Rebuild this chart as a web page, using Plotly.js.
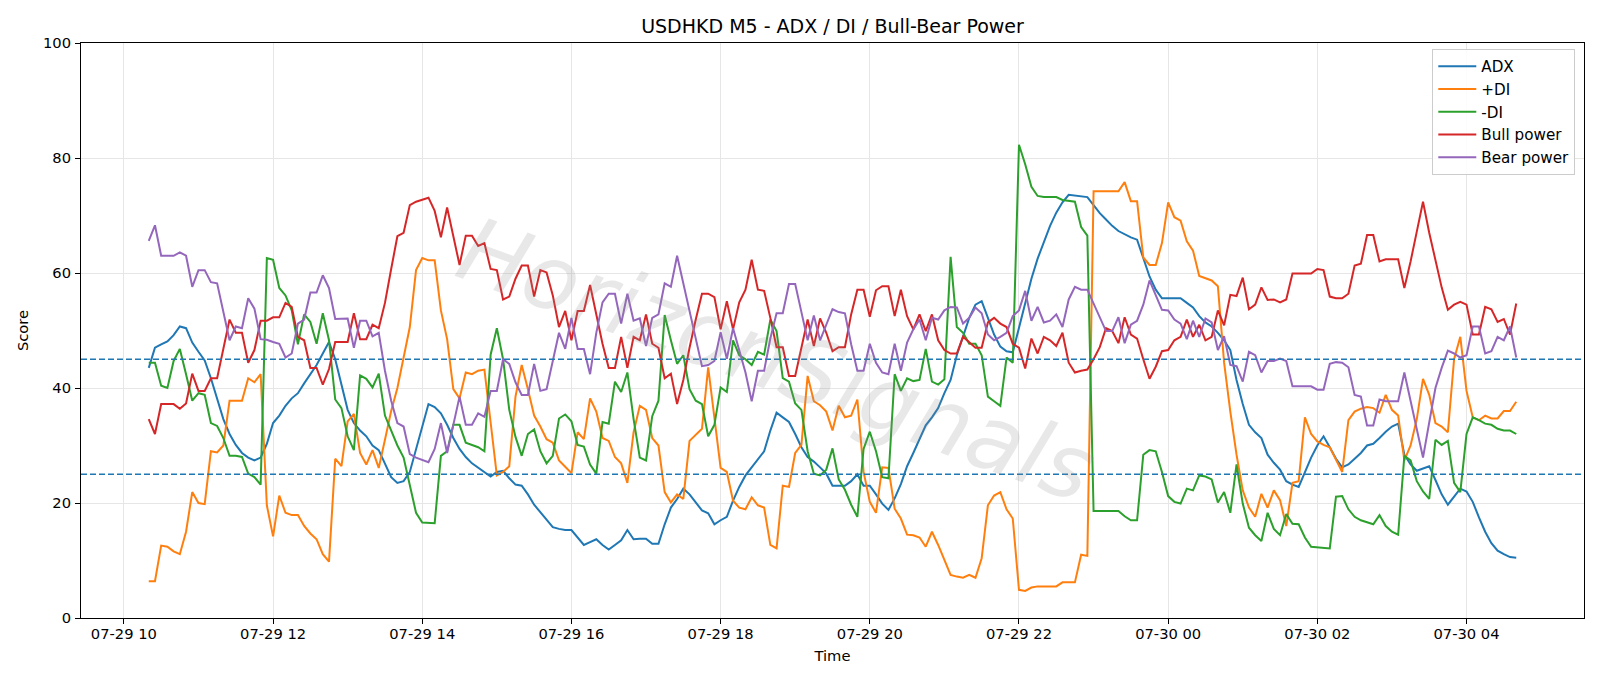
<!DOCTYPE html>
<html>
<head>
<meta charset="utf-8">
<script src="https://cdn.plot.ly/plotly-3.0.1.min.js"></script>
<style>
  html, body { margin: 0; padding: 0; background: #ffffff; }
  #chart { width: 1600px; height: 686px; }
</style>
</head>
<body>
<div id="chart"></div>
<script>
// ---- data (M5 bars, 2025-07-29 10:20 -> 2025-07-30 04:40) ----
const startTime = "2025-07-29T10:20:00";
const stepMinutes = 5;

const adx = [
  43.5,47,47.6,48.1,49.2,50.7,50.4,47.9,46.3,44.8,
  41.7,38.2,34.6,32,30.1,28.7,27.9,27.4,27.9,30.3,
  33.9,35.2,36.9,38.2,39.1,40.8,42.4,44,46,48,
  45,40.4,36.2,33.9,32.6,31.6,30,29.2,26.7,24.5,
  23.5,23.8,25.4,29.4,33.3,37.2,36.7,35.6,33.6,31.3,
  29.4,28,26.9,26.1,25.3,24.6,25.4,25.6,24.3,23.2,
  23,21.5,19.7,18.4,17.3,15.8,15.5,15.3,15.3,14,
  12.7,13.2,13.7,12.7,11.9,12.7,13.5,15.3,13.7,13.8,
  13.8,12.9,12.9,16.3,19.2,20.7,22.5,21.5,20,18.7,
  18.2,16.3,17,17.6,20.4,22.8,24.8,26.2,27.7,29,
  32.6,35.7,34.9,34.1,32,29.7,28,27.2,26.2,25.1,
  23,23,23,23.8,25,23,23,21.5,19.9,18.8,
  20.8,23.3,26.4,28.7,31,33.5,34.9,36.5,39.1,41.4,
  45.7,49,52.2,54.5,55.1,52.2,49.3,47.2,46.4,46.2,
  50.5,55,59,62.5,65.5,68.2,70.5,72.3,73.6,73.5,
  73.4,73.2,71.8,70.4,69.3,68.2,67.3,66.7,66.2,65.8,
  62.6,59.4,57.1,55.6,55.6,55.6,55.6,54.8,54,52.5,
  51.4,50.7,49.6,48.3,46.6,41.4,37.2,33.6,32.3,31.3,
  28.4,27,25.8,23.8,23.2,22.8,25.4,27.9,30,31.6,
  29.7,27.7,26.2,26.7,27.7,28.7,30,30.3,31.3,32.4,
  33.3,33.8,28.4,26.7,25.6,26,26.4,24,21.5,19.7,
  21,22.5,22,20.2,17.5,15,13,11.7,11.1,10.6,
  10.5
];

const plusDI = [
  6.4,6.4,12.6,12.4,11.6,11.1,15,21.9,20,19.8,
  29,28.8,30,37.8,37.8,37.8,41.7,41,42.4,19.6,
  14.2,21.3,18.3,17.9,17.9,16,14.7,13.7,11.1,9.8,
  27.7,26.4,34.2,35.5,28.7,26.7,29.2,26.1,31,36,
  40,45,50.6,60.5,62.6,62.2,62.2,53.5,48.5,39.8,
  38.2,42.7,42.4,43,43.2,34,24.8,25.4,26.4,38.5,
  44,39.8,35.2,33.3,31.1,30.5,27.4,26.3,25.2,32.3,
  31.1,38.2,35.9,31.3,30.8,28,26.9,23.5,32.3,36.9,
  36.2,31.3,30,21.9,20.1,21.5,20.7,30.8,31.8,32.9,
  43.6,34.6,26.1,25.4,20.4,19.2,18.9,21,19.6,19.2,
  12.7,12.1,23,22.8,28.7,30.1,42.1,37.7,37,35.9,
  32.6,36.9,34.9,35.2,38,25.4,20.2,18.3,26.2,26.1,
  19,17.3,14.5,14.4,14,12.4,15,12.7,10.1,7.5,
  7.2,7,7.5,7,10.4,19.6,21.3,21.9,18.9,17.3,
  4.9,4.7,5.3,5.5,5.5,5.5,5.5,6.2,6.2,6.2,
  11,10.8,74.2,74.2,74.2,74.2,74.2,75.8,72.5,72.5,
  62.7,61.4,61.4,65.2,72.3,69.7,69.1,65.5,63.9,59.5,
  59.1,58.7,57.7,44.4,35.9,28.4,22.2,19.2,17.6,21.6,
  19.2,22.2,20.5,16,23.5,23.8,34.9,32,30.7,30.1,
  29.7,27.4,25.4,34.4,35.9,36.4,36.7,36.5,35.7,38.8,
  36.2,35.2,27.4,30,34.6,41.6,38.8,33.9,33.3,32.3,
  45,48.9,39.5,34.9,34.4,35.2,34.7,34.7,36,36,
  37.6
];

const minusDI = [
  44.4,44.4,40.4,40,44.7,46.8,42.4,37.8,39.1,38.8,
  33.9,33.4,31.3,28.2,28.2,28,25.1,24.5,23.2,62.6,
  62.3,57.4,56.1,53.5,47.6,52.8,51.5,47.7,53,48.3,
  38,36.5,31.6,29.2,42.2,41.6,40.1,42.5,35.2,32.6,
  30,27.9,22.8,18.3,16.6,16.5,16.5,28.2,29,33.6,
  33.6,30.5,30.1,29.7,29,45.8,50.4,45,36.2,31.5,
  28.2,32,32.8,29,26.9,28.2,34.7,35.4,34.2,30.1,
  29.8,26.7,25.1,34.1,33.8,41.1,39.3,42.7,34.6,27.9,
  27.4,35.1,37.8,52.7,48.3,44.2,45.7,39.8,37.8,37.2,
  31.6,33.6,40.1,39.3,48.3,45.7,45,44,46.3,45.8,
  51.9,49.9,41.7,41.1,37.3,36.2,29,25.1,24.8,25.8,
  29.5,24.1,22.3,19.7,17.6,29.4,32.4,29,24.5,24.3,
  42.4,39.5,41.7,41.2,41.4,46.8,41.1,40.6,41.5,62.8,
  50.6,49.6,47.7,47.7,45.7,38.5,37.7,36.9,45.3,44.4,
  82.3,78.9,75,73.4,73.2,73.2,73.2,72.7,72.5,72.4,
  68,66.5,18.6,18.6,18.6,18.6,18.6,17.7,17,17,
  28.4,29.2,29,25.4,21.2,20.2,19.9,22.5,22.2,24.8,
  24.6,24.1,20.1,21.9,18.3,26.7,19.9,15.7,14.4,13.4,
  18.3,15.5,14.4,18.1,16.4,16.3,14,12.4,12.3,12.1,
  12.1,21.1,21.2,18.9,17.6,17,16.6,16.3,17.9,16,
  15,14.5,28.2,27.4,23.8,22,20.7,31,30.1,30.8,
  23.5,21.9,32,34.9,34.4,33.8,33.6,32.9,32.6,32.6,
  32
];

const bullPower = [
  34.6,32,37.2,37.2,37.2,36.4,37.3,42.5,39.5,39.5,
  41.7,41.7,47,51.9,49.6,49.6,44.4,46.6,51.7,51.7,
  52.3,52.3,54.8,54.1,48.9,48.3,43.5,43.5,40.6,43.3,
  48,48,48,53,48.5,48.5,51,50.4,54.8,60.7,
  66.4,67,71.8,72.4,72.7,73.1,70.8,66.2,71.4,66.5,
  61.4,66.5,66.5,64.7,65.2,60.7,60.5,55.4,55.9,59,
  61.3,61.3,55.9,60.5,60.1,56.1,50.6,53.4,48.3,53.4,
  53.4,57.9,52.5,47.7,43.5,43.5,48.9,43.5,48.9,48.3,
  52.8,47.7,47,41.7,42.5,37.2,41.4,47,51.9,56.4,
  56.4,55.8,50.2,55.1,50.2,54.9,57.1,62.3,57.1,56.9,
  52.2,47.1,47.1,42.1,42.1,47,51.9,47.3,52.1,49.6,
  46.4,47.1,47.1,52.8,57.1,57.1,52.4,57,57.7,57.7,
  52.5,57.1,52.5,50.2,52.8,49.9,52.8,48.3,46.6,46,
  46,48.9,47.9,47,47,51.4,52.2,51.2,50.6,47.7,
  47,43.4,48.6,46,48.9,48.3,47.3,49.6,44.4,42.7,
  43,43.2,45,47.1,50.4,49.9,47.8,52.3,49.3,48.6,
  45,41.6,43.7,46.4,46.6,48.3,48.9,51.9,48.9,51,
  48.3,48.9,53.5,50.9,56.2,56,59.2,53.7,54.5,57.5,
  55.3,55.4,54.9,55.4,59.9,59.9,59.9,59.9,60.7,60.5,
  55.9,55.6,55.6,56.4,61.3,61.6,66.6,66.6,62,62.4,
  62.4,62.4,57.4,62,67.2,72.4,67,62,57.5,53.6,
  54.5,55,54.5,49.3,49.3,54.1,53.7,51.5,52,49.3,
  54.7
];

const bearPower = [
  65.6,68.3,63,63,63,63.6,63,57.6,60.5,60.5,
  58.4,58.2,53.5,48.3,50.7,50.4,55.6,53.8,48.5,48.4,
  48,47.7,45.3,46,51.2,51.9,56.6,56.6,59.6,57.4,
  52,52.1,52.1,47,51.7,51.7,49,49.6,43,37.8,
  33.9,33.3,28.5,27.9,27.5,27.1,29.4,33.9,28.7,33.9,
  38.5,33.6,33.6,35.6,35,39.5,39.5,45,44.2,41,
  38.8,38.8,44.2,39.5,39.8,44.7,49.6,46.8,52.2,46.8,
  46.8,42.4,49.6,54.9,56.4,56.4,51.2,56.4,51.7,52.1,
  47.3,52.2,52.8,58.2,57.6,63,58.2,53.2,48.3,43.8,
  44,44.7,49.7,45.1,50.4,46.3,42.7,37.7,43,43,
  48.6,53,53,58.1,58.1,53.2,48.3,52.6,48.3,51,
  53.7,53.2,53,47.6,43,43,47.7,44.4,42.7,42.4,
  47.7,43,47.9,50.2,51.9,48.3,52.2,51.9,53.5,54.1,
  54,51.2,52.2,54,53,49.3,48.3,48.9,49.6,52.5,
  53.5,56.9,51.7,54.1,51.4,51.7,52.8,50.6,55.4,57.6,
  57.1,57.1,54.8,52.5,49.9,49.9,52.3,47.8,51,51.7,
  54.5,58.7,56.1,53.6,53.5,51.9,51.2,48.5,51.7,48.9,
  52.1,51.4,46.6,49,44,43.8,41.1,46.3,45.7,42.7,
  44.7,44.7,45.1,44.7,40.3,40.3,40.3,40.3,39.7,39.7,
  44.2,44.5,44.4,43.6,38.8,38.5,33.5,33.5,38,37.7,
  37.7,37.7,42.7,37.7,32.8,27.9,34,40,43.5,46.5,
  46,45.3,45.7,50.7,50.7,46,46.4,48.9,48.3,50.7,
  45.3
];

const seriesNames = ["ADX", "+DI", "-DI", "Bull power", "Bear power"];
const seriesColors = ["#1f77b4", "#ff7f0e", "#2ca02c", "#d62728", "#9467bd"];
const thresholds = [45, 25];
const xRange = ["2025-07-29 09:25:30", "2025-07-30 05:34:30"];

// ---- build timestamps ----
function pad(n) { return (n < 10 ? "0" : "") + n; }
function makeTimes(n) {
  const t0 = new Date(startTime + "Z").getTime();
  const out = [];
  for (let i = 0; i < n; i++) {
    const d = new Date(t0 + i * stepMinutes * 60000);
    out.push(d.getUTCFullYear() + "-" + pad(d.getUTCMonth() + 1) + "-" + pad(d.getUTCDate()) +
             " " + pad(d.getUTCHours()) + ":" + pad(d.getUTCMinutes()) + ":00");
  }
  return out;
}
const times = makeTimes(adx.length);

const allSeries = [adx, plusDI, minusDI, bullPower, bearPower];
const traces = allSeries.map((vals, k) => ({
  type: "scatter",
  mode: "lines",
  x: times,
  y: vals,
  name: seriesNames[k],
  legendgroup: "g" + k,
  line: { color: seriesColors[k], width: 2 }
}));

const FONT = "DejaVu Sans, Verdana, sans-serif";

const layout = {
  width: 1600,
  height: 686,
  paper_bgcolor: "#ffffff",
  plot_bgcolor: "#ffffff",
  margin: { l: 81, r: 16, t: 43, b: 68, pad: 0 },
  font: { family: FONT, size: 14, color: "#000000" },
  title: {
    text: "USDHKD M5 - ADX / DI / Bull-Bear Power",
    font: { family: FONT, size: 19, color: "#000000" },
    x: 0.5, xref: "paper", xanchor: "center",
    y: 1 - 26 / 686, yref: "container", yanchor: "middle"
  },
  xaxis: {
    type: "date",
    range: xRange,
    tick0: "2025-07-29 00:00:00",
    dtick: 7200000,
    tickformat: "%m-%d %H",
    ticks: "outside", ticklen: 5, tickwidth: 1, tickcolor: "#000000",
    showline: true, linecolor: "#000000", linewidth: 1, mirror: true,
    showgrid: true, gridcolor: "#e6e6e6", gridwidth: 1,
    zeroline: false,
    tickfont: { family: FONT, size: 14.7, color: "#000000" },
    ticklabelstandoff: -3,
    title: { text: "Time", font: { family: FONT, size: 14.7, color: "#000000" }, standoff: 10 },
    automargin: false
  },
  yaxis: {
    range: [0, 100],
    dtick: 20,
    ticks: "outside", ticklen: 5, tickwidth: 1, tickcolor: "#000000",
    showline: true, linecolor: "#000000", linewidth: 1, mirror: true,
    showgrid: true, gridcolor: "#e6e6e6", gridwidth: 1,
    zeroline: false,
    tickfont: { family: FONT, size: 14.7, color: "#000000" },
    ticklabelstandoff: 1,
    title: { text: "Score", font: { family: FONT, size: 14.7, color: "#000000" }, standoff: 10 },
    automargin: false
  },
  legend: {
    x: 0.9942, y: 0.99, xanchor: "right", yanchor: "top",
    bgcolor: "rgba(255,255,255,0.85)",
    bordercolor: "#cccccc", borderwidth: 1,
    font: { family: FONT, size: 15.2, color: "#000000" },
    tracegroupgap: 0,
    itemwidth: 38
  },
  showlegend: true,
  shapes: thresholds.map(v => ({
    type: "line", xref: "paper", x0: 0, x1: 1, yref: "y", y0: v, y1: v,
    line: { color: "#1f77b4", width: 1.4, dash: "6px,3px" },
    layer: "above"
  })),
  annotations: [{
    text: "HorizonSignals",
    xref: "paper", yref: "paper", x: 0.463, y: 0.45,
    showarrow: false, textangle: 20,
    font: { family: FONT, size: 90, color: "rgba(140,140,140,0.2)", style: "italic" }
  }]
};

Plotly.newPlot("chart", traces, layout, { displayModeBar: false, staticPlot: true });
</script>
</body>
</html>
